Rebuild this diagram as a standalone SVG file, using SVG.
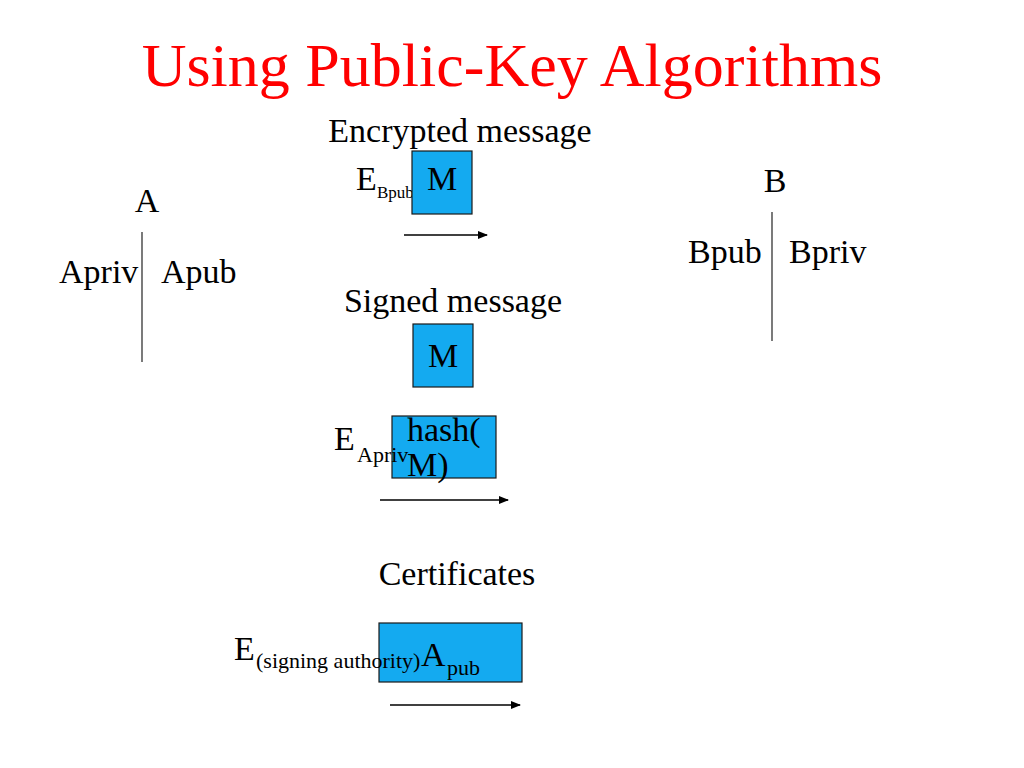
<svg xmlns="http://www.w3.org/2000/svg" width="1024" height="768" viewBox="0 0 1024 768">
<style>
text{font-family:"Liberation Serif","Times New Roman",serif;fill:#000}
.t{font-size:34px}
.s{font-size:22px}
.xs{font-size:17px}
.box{fill:#14AAF0;stroke:#1a1a1a;stroke-width:1.2}
.ln{stroke:#333;stroke-width:1.3;fill:none}
.arr{stroke:#000;stroke-width:1.5;fill:none;marker-end:url(#ah)}
</style>
<defs>
<marker id="ah" markerWidth="10" markerHeight="8" refX="9" refY="4" orient="auto" markerUnits="userSpaceOnUse">
<path d="M0,0 L10,4 L0,8 Z" fill="#000"/>
</marker>
</defs>
<rect width="1024" height="768" fill="#fff"/>
<text x="512" y="86" text-anchor="middle" style="font-size:62px;fill:#FF0000">Using Public-Key Algorithms</text>

<g id="nodeA">
<text class="t" x="147" y="212" text-anchor="middle">A</text>
<line class="ln" x1="142" y1="232" x2="142" y2="362"/>
<text class="t" x="59" y="283">Apriv</text>
<text class="t" x="161" y="283">Apub</text>
</g>

<g id="nodeB">
<text class="t" x="775" y="192" text-anchor="middle">B</text>
<line class="ln" x1="772" y1="212" x2="772" y2="341"/>
<text class="t" x="688" y="263">Bpub</text>
<text class="t" x="789" y="263">Bpriv</text>
</g>

<g id="encrypted">
<text class="t" x="460" y="142" text-anchor="middle">Encrypted message</text>
<text class="t" x="356" y="190">E</text>
<text class="xs" x="377" y="198">Bpub</text>
<rect class="box" x="412" y="151" width="60" height="63"/>
<text class="t" x="442" y="190" text-anchor="middle">M</text>
</g>

<g id="signed">
<text class="t" x="453" y="312" text-anchor="middle">Signed message</text>
<rect class="box" x="413" y="324" width="60" height="63"/>
<text class="t" x="443" y="367" text-anchor="middle">M</text>
<text class="t" x="334" y="450">E</text>
<rect class="box" x="392" y="416" width="104" height="62"/>
<text class="s" x="357" y="462">Apriv</text>
<text class="t" x="407" y="441">hash(</text>
<text class="t" x="407" y="476">M)</text>
</g>

<g id="certificates">
<text class="t" x="457" y="585" text-anchor="middle">Certificates</text>
<rect class="box" x="379" y="623" width="143" height="59"/>
<text class="t" x="234" y="660">E</text>
<text class="s" x="256" y="668">(signing authority)</text>
<text class="t" x="421" y="666">A</text>
<text class="s" x="447" y="675">pub</text>
</g>

<g id="connectors">
<line class="arr" x1="404" y1="235" x2="487" y2="235"/>
<line class="arr" x1="380" y1="500" x2="508" y2="500"/>
<line class="arr" x1="390" y1="705" x2="520" y2="705"/>
</g>
</svg>
